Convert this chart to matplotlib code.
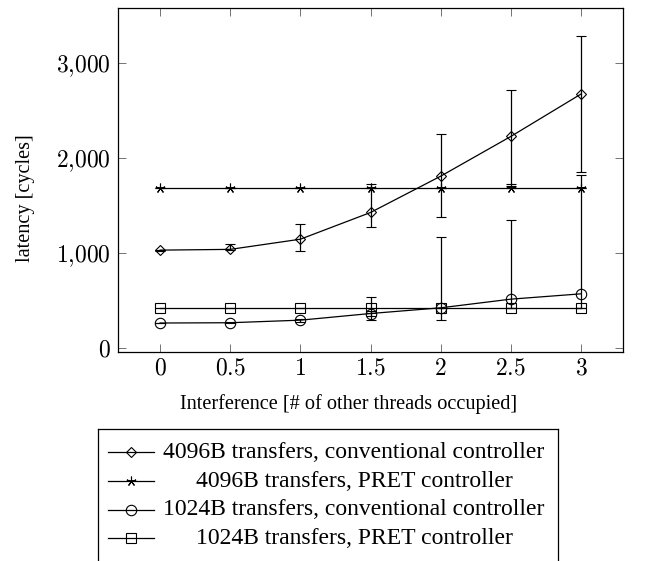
import numpy as np
import matplotlib
matplotlib.use('Agg')
import matplotlib.pyplot as plt
from matplotlib.ticker import FuncFormatter

plt.rcParams['mathtext.fontset'] = 'cm'
plt.rcParams['font.family'] = ['Liberation Serif', 'DejaVu Serif']

# interference level (# of other threads occupied)
x = [0, 0.5, 1, 1.5, 2, 2.5, 3]

# 4096B transfers, conventional controller
conv4096 = [1032, 1040, 1147, 1428, 1810, 2228, 2674]
conv4096_lo = [1028, 1030, 1028, 1274, 1379, 1733, 1853]
conv4096_hi = [1036, 1098, 1305, 1730, 2256, 2716, 3284]

# 4096B transfers, PRET controller
pret4096 = [1685, 1685, 1685, 1685, 1685, 1685, 1685]
pret4096_lo = [1685, 1685, 1685, 1685, 1685, 1685, 1685]
pret4096_hi = [1685, 1685, 1685, 1690, 1685, 1712, 1685]

# 1024B transfers, conventional controller
conv1024 = [265, 268, 295, 365, 425, 516, 572]
conv1024_lo = [262, 264, 280, 340, 295, 421, 421]
conv1024_hi = [268, 272, 305, 390, 1175, 1351, 1824]

# 1024B transfers, PRET controller
pret1024 = [421, 421, 421, 421, 421, 421, 421]
pret1024_lo = [421, 421, 421, 301, 421, 421, 421]
pret1024_hi = [421, 421, 421, 534, 421, 421, 421]

labels = ['4096B transfers, conventional controller',
          '4096B transfers, PRET controller',
          '1024B transfers, conventional controller',
          '1024B transfers, PRET controller']
markers = ['D', (5, 2, 0), 'o', 's']
msizes = [5.5, 7, 7.5, 7]
series = [(conv4096, conv4096_lo, conv4096_hi),
          (pret4096, pret4096_lo, pret4096_hi),
          (conv1024, conv1024_lo, conv1024_hi),
          (pret1024, pret1024_lo, pret1024_hi)]

W, H = 646, 561
fig = plt.figure(figsize=(W/100, H/100), dpi=100)
ax = fig.add_axes([118/W, 1-352/H, 505/W, 344/H])

for (y, lo, hi), m, ms in zip(series, markers, msizes):
    y = np.array(y)
    err = [y - np.array(lo), np.array(hi) - y]
    ax.errorbar(x, y, yerr=err, color='black', lw=0.9, marker=m, ms=ms,
                mfc='none', mec='black', mew=0.8, capsize=3.8, capthick=0.9,
                elinewidth=0.9)

ax.set_xlim(-0.3, 3.3)
ax.set_ylim(-40, 3580)
ax.set_xticks(x)
ax.set_yticks([0, 1000, 2000, 3000])
ax.xaxis.set_major_formatter(FuncFormatter(lambda v, p: '$%g$' % v))
ax.yaxis.set_major_formatter(FuncFormatter(
    lambda v, p: '$' + format(int(v), ',').replace(',', '{,}') + '$'))
ax.tick_params(direction='in', length=5.5, width=0.7, color='0.45',
               top=True, right=True, labelsize=17, pad=5)
for s in ax.spines.values():
    s.set_linewidth(0.9)

ax.set_xlabel('Interference [# of other threads occupied]', fontsize=14.6, va='center')
ax.set_ylabel('latency [cycles]', fontsize=14.6, va='center')
ax.xaxis.set_label_coords(0.457, -0.151)
ax.yaxis.set_label_coords(-0.184, 0.448)

# legend box drawn in pixel coordinates, entries centred like pgfplots
lax = fig.add_axes([98/W, 1-566/H, 460/W, (566-429)/H])
lax.set_xlim(98, 558)
lax.set_ylim(566, 429)
lax.set_xticks([])
lax.set_yticks([])
for s in lax.spines.values():
    s.set_linewidth(0.9)
rows = [452, 481, 509.5, 538]
for ry, lab, m, ms in zip(rows, labels, markers, msizes):
    lax.plot([108, 154], [ry, ry], color='black', lw=0.9)
    lax.plot([131], [ry], marker=m, ms=ms, mfc='none', mec='black', mew=0.8)
    lax.text(354, ry, lab, ha='center', va='center', fontsize=17)

plt.savefig('out.png', dpi=100)
